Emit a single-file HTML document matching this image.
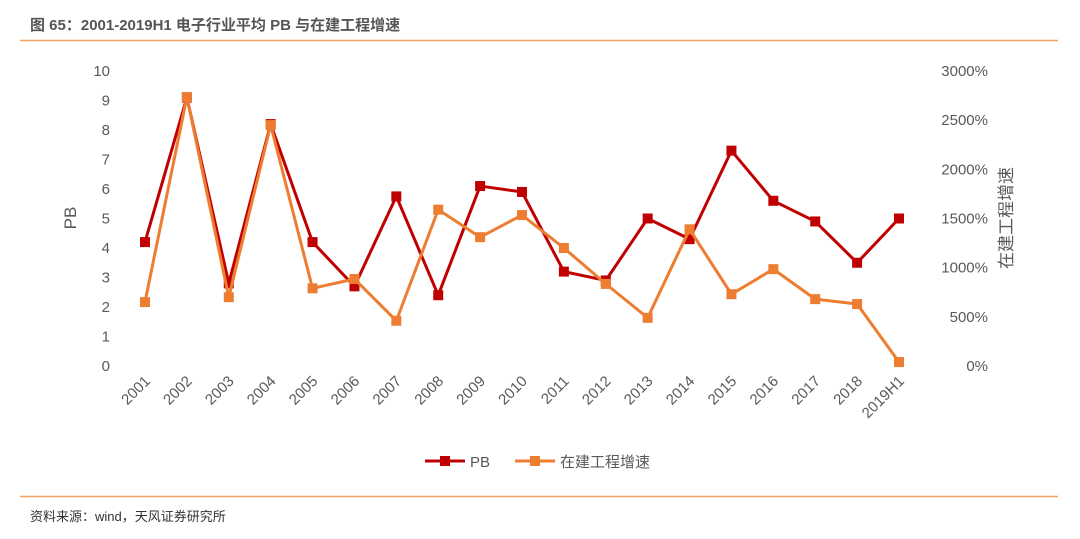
<!DOCTYPE html>
<html><head><meta charset="utf-8"><style>
body{margin:0;background:#fff;width:1080px;height:534px;overflow:hidden;font-family:"Liberation Sans","Noto Sans CJK SC",sans-serif;}
</style></head><body>
<svg id="c" width="1080" height="534" xmlns="http://www.w3.org/2000/svg">
<text x="30" y="30" font-size="15" font-weight="bold" fill="#555" font-family="Liberation Sans,Noto Sans CJK SC,sans-serif">图 65：2001-2019H1 电子行业平均 PB 与在建工程增速</text>
<line x1="20" y1="40.5" x2="1058" y2="40.5" stroke="#f4a460" stroke-width="1.5"/>
<line x1="20" y1="496.5" x2="1058" y2="496.5" stroke="#f4a460" stroke-width="1.5"/>
<text x="30" y="521" font-size="13" fill="#333" font-family="Liberation Sans,Noto Sans CJK SC,sans-serif">资料来源：wind，天风证券研究所</text>
<text transform="translate(76,218) rotate(-90)" text-anchor="middle" font-size="17" fill="#595959">PB</text>
<text transform="translate(1012,218) rotate(-90)" text-anchor="middle" font-size="17" fill="#595959" font-family="Liberation Sans,Noto Sans CJK SC,sans-serif">在建工程增速</text>
<g id="ax"></g><g id="ser"></g>
<g>
<g><line x1="425" y1="461" x2="465" y2="461" stroke="#c00000" stroke-width="3"/><rect x="440" y="456" width="10" height="10" fill="#c00000"/><text x="470" y="467" font-size="15" fill="#595959">PB</text></g>
<g><line x1="515" y1="461" x2="555" y2="461" stroke="#ed7d31" stroke-width="3"/><rect x="530" y="456" width="10" height="10" fill="#ed7d31"/><text x="560" y="467" font-size="15" fill="#595959" font-family="Liberation Sans,Noto Sans CJK SC,sans-serif">在建工程增速</text></g>
</g>
</svg>
<script>
const categories=["2001","2002","2003","2004","2005","2006","2007","2008","2009","2010","2011","2012","2013","2014","2015","2016","2017","2018","2019H1"];
const pbValues=[4.2,9.1,2.8,8.2,4.2,2.7,5.75,2.4,6.1,5.9,3.2,2.9,5.0,4.3,7.3,5.6,4.9,3.5,5.0];
const constructionValues=[650,2735,700,2450,790,885,460,1590,1310,1535,1200,835,490,1390,730,985,680,630,40];
const leftTicks=[0,1,2,3,4,5,6,7,8,9,10];
const rightTicks=[0,500,1000,1500,2000,2500,3000];
const NS="http://www.w3.org/2000/svg";
const x0=145,x1=899,yb=366,yt=71;
const xs=i=>x0+i*(x1-x0)/(categories.length-1);
const yL=v=>yb-(v/10)*(yb-yt);
const yR=v=>yb-(v/3000)*(yb-yt);
const ax=document.getElementById('ax'),ser=document.getElementById('ser');
function mk(t,a,p){const e=document.createElementNS(NS,t);for(const k in a)e.setAttribute(k,a[k]);p.appendChild(e);return e;}
leftTicks.forEach(v=>{const t=mk('text',{x:110,y:yL(v)+5,'text-anchor':'end','font-size':15,fill:'#595959'},ax);t.textContent=v;

});
rightTicks.forEach(v=>{const t=mk('text',{x:988,y:yR(v)+5,'text-anchor':'end','font-size':15,fill:'#595959'},ax);t.textContent=v+'%';

});
categories.forEach((c,i)=>{const x=xs(i)+6,y=382;const t=mk('text',{x:x,y:y,'text-anchor':'end','font-size':15,fill:'#595959',transform:`rotate(-45 ${x} ${y})`},ax);t.textContent=c;

});
function series(vals,yf,col,name){
const g=mk('g',{},ser);


const pl=mk('polyline',{points:vals.map((v,i)=>xs(i)+','+yf(v)).join(' '),fill:'none',stroke:col,'stroke-width':3,'stroke-linejoin':'round'},g);


vals.forEach((v,i)=>{const r=mk('rect',{x:xs(i)-5,y:yf(v)-5,width:10,height:10,fill:col},g);

});
}
series(pbValues,yL,'#c00000','pb');
series(constructionValues,yR,'#ed7d31','construction');
</script>
</body></html>
